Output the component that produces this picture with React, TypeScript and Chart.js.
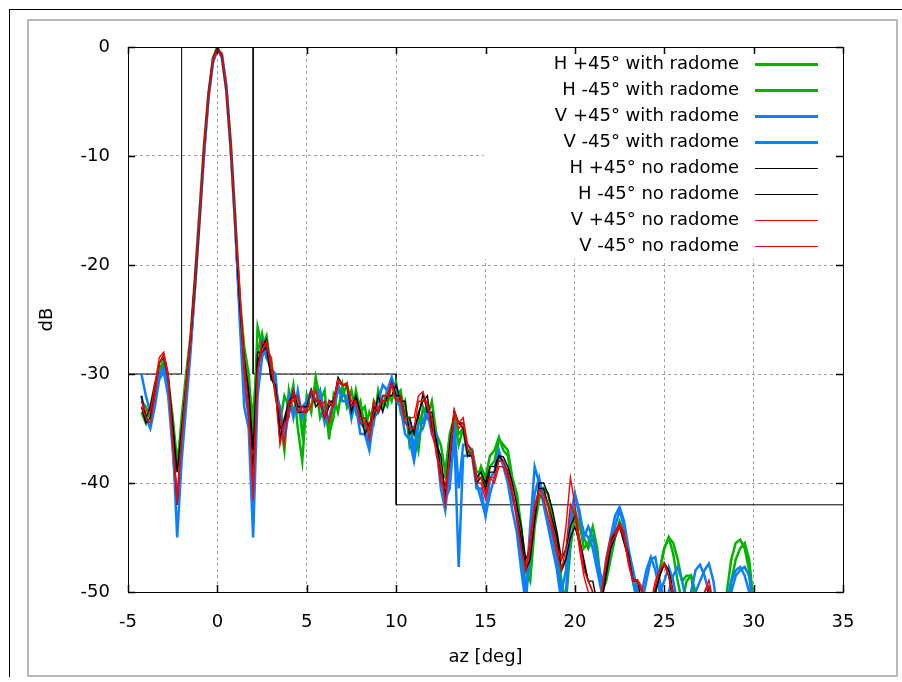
import { useEffect, useRef } from 'react';
import { Chart, registerables } from 'chart.js';

Chart.register(...registerables);

// azimuth samples [deg]
const az = [
  -4.25, -4, -3.75, -3.5, -3.25, -3, -2.75, -2.5, -2.25, -2,
  -1.75, -1.5, -1.25, -1, -0.75, -0.5, -0.25, 0, 0.25, 0.5,
  0.75, 1, 1.25, 1.5, 1.75, 2, 2.25, 2.5, 2.75, 3,
  3.25, 3.5, 3.75, 4, 4.25, 4.5, 4.75, 5, 5.25, 5.5,
  5.75, 6, 6.25, 6.5, 6.75, 7, 7.25, 7.5, 7.75, 8,
  8.25, 8.5, 8.75, 9, 9.25, 9.5, 9.75, 10, 10.25, 10.5,
  10.75, 11, 11.25, 11.5, 11.75, 12, 12.25, 12.5, 12.75, 13,
  13.25, 13.5, 13.75, 14, 14.25, 14.5, 14.75, 15, 15.25, 15.5,
  15.75, 16, 16.25, 16.5, 16.75, 17, 17.25, 17.5, 17.75, 18,
  18.25, 18.5, 18.75, 19, 19.25, 19.5, 19.75, 20, 20.25, 20.5,
  20.75, 21, 21.25, 21.5, 21.75, 22, 22.25, 22.5, 22.75, 23,
  23.25, 23.5, 23.75, 24, 24.25, 24.5, 24.75, 25, 25.25, 25.5,
  25.75, 26, 26.25, 26.5, 26.75, 27, 27.25, 27.5, 27.75, 28,
  28.25, 28.5, 28.75, 29, 29.25, 29.5, 29.75, 30,
];

const hPlus45Radome = [
  -33.5, -34.5, -33, -31, -29.5, -28.8, -31, -35.5, -39, -34,
  -30, -26.5, -21, -15, -9, -4.2, -1.3, -0.3, -0.6, -3.5,
  -8.8, -15.5, -23, -27.5, -30, -36, -25.7, -27.5, -26.5, -29.5,
  -30.5, -34.5, -32, -33, -31, -35, -38, -32, -33.5, -30.3,
  -32.5, -31.5, -36, -32, -33.5, -31, -33, -31.5, -33.5, -32.5,
  -35, -33.5, -34.5, -31.5, -33, -31.5, -32.5, -30.8, -33.5, -32.5,
  -36.5, -35, -37, -33, -34, -32.5, -35.5, -36.5, -39, -35.5,
  -34, -36.5, -35, -37.5, -37, -40, -38.5, -39.5, -37.5, -37,
  -35.8, -37, -37.5, -40, -41, -45, -50, -47, -43, -41,
  -41, -42, -44, -46, -48, -47, -44, -42.5, -44, -45,
  -46, -45, -47, -49, -48, -46, -44.5, -44, -45, -47,
  -49, -51, -53, -52, -51, -50, -48, -46, -45, -46.5,
  -49, -51, -49, -48.5, -50, -52, -51, -50, -52, -54,
  -53, -50, -47, -45.5, -45.2, -46, -48, -52,
];

const hMinus45Radome = [
  -32.5, -33, -34, -32, -30, -29, -30.5, -34, -38, -35,
  -31, -27.5, -22, -16, -9.5, -4.5, -1, 0, -0.8, -4,
  -9.5, -16.5, -24, -29, -31, -34, -28, -26.3, -28.5, -28.5,
  -32, -34, -37, -31.5, -33.5, -32, -35.5, -32.5, -33, -31,
  -34, -33, -35.5, -34, -31, -32, -31, -34, -31.5, -33.5,
  -33, -35.5, -32.5, -33.5, -32.5, -33, -30.8, -32, -31.5, -34,
  -34, -37, -34.5, -33.5, -33, -34.5, -35.5, -39, -39.5, -37.5,
  -34, -35.5, -35, -37, -37, -39, -39, -40.5, -38.5, -38,
  -36, -36.5, -37, -39.5, -41, -44, -48, -49, -44, -41.5,
  -40.5, -41, -43, -45.5, -49, -51, -46, -43, -43.5, -46,
  -45.5, -44, -46, -50, -49, -47, -45, -43.5, -44.5, -46.5,
  -48, -50, -52, -54, -52, -50, -48, -46, -45, -45.5,
  -47, -49, -48.5, -48.5, -51, -53, -52, -51, -53, -55,
  -54, -52, -49, -47, -46, -45.5, -47, -51,
];

const vPlus45Radome = [
  -30, -32, -33.5, -32.5, -30, -29.4, -31, -36, -45, -38,
  -33, -28, -22, -16, -10, -4.8, -1.5, -0.2, -0.7, -3.6,
  -9, -16, -25, -33, -35, -45, -32, -28.5, -27, -29.5,
  -30, -35.5, -36, -33.5, -31.5, -33.5, -33, -32.5, -31.5, -32.5,
  -32.5, -34.5, -32.5, -33, -31.5, -32, -32, -34, -32.5, -34.5,
  -35, -36.5, -33.5, -32.5, -31, -31.5, -30.3, -31.5, -32.5, -34.5,
  -34.5, -37, -34.5, -34.5, -33, -35, -35.5, -39.5, -41.5, -40.5,
  -35.5, -47.7, -37.5, -37.5, -37.5, -40.5, -40.5, -43, -41, -39.5,
  -37.6, -38.3, -39, -41.5, -42.5, -47, -50, -44, -38.5, -40,
  -42, -44, -46, -48, -51, -50, -44, -41, -43, -44.5,
  -45, -46, -48, -50, -47, -45, -43, -42.2, -43.5, -46,
  -48, -50, -51, -49, -47, -46.8, -49, -51, -50, -48.5,
  -47.7, -49, -51, -52, -50, -49, -48, -47.4, -49, -52,
  -54, -52, -50, -48.5, -48, -47.7, -48.5, -52,
];

const vMinus45Radome = [
  -32, -34, -35, -33, -30.5, -29.8, -32, -37, -42, -37,
  -32, -27, -21.5, -15.5, -9.8, -4.5, -1.2, -0.1, -1, -4,
  -9.5, -16.5, -24.5, -31, -34, -42, -30, -27, -28.5, -29.5,
  -31.5, -33, -35.5, -32, -34, -31.5, -34, -32.5, -32, -32.5,
  -31.5, -34, -34, -32.5, -31, -32.5, -32.5, -33, -33, -35.5,
  -35.5, -37, -34, -33.5, -32, -32, -30.5, -32.5, -33, -35.5,
  -36, -38, -35.5, -35, -33.5, -35.5, -36.5, -40.5, -42.5, -38.5,
  -34.5, -40.5, -36.5, -36.5, -37, -40, -41.5, -43, -39.5, -39,
  -37, -38.5, -40, -42.5, -44.5, -48, -51, -46, -41, -39.5,
  -41.5, -43.5, -45, -47, -50, -48, -43, -41, -42.5, -45,
  -44, -45, -47, -49, -48, -46, -44, -42.5, -44, -47,
  -49, -51, -50, -48, -46.8, -48, -50, -49, -47.7, -49,
  -51, -53, -52, -50, -48, -47.5, -48.5, -50, -53, -55,
  -53, -51, -49, -48, -47.7, -48.5, -50, -54,
];

const hPlus45NoRadome = [
  -33, -34.5, -34, -31.5, -29, -28.2, -30, -35, -42, -35.5,
  -31, -26.5, -21, -15.5, -9.2, -4.3, -1.1, 0, -0.9, -3.9,
  -9.2, -16.3, -23.5, -29.5, -32, -39, -29, -27.5, -26.8, -30,
  -31.5, -36, -34, -32.5, -32, -33.5, -33.5, -33.5, -31.5, -33,
  -32.5, -34, -33, -32.5, -30.3, -31, -31, -33, -32, -33.5,
  -35.5, -34.5, -34, -32, -33.5, -32, -32, -31, -32.5, -32.5,
  -35.5, -35, -34, -31.8, -33.5, -33.5, -36.5, -37.5, -41, -36.5,
  -33.3, -34.5, -34.5, -37, -37.5, -39.5, -39, -40, -38.5, -38.5,
  -37.5, -37.6, -38.5, -40, -42, -44, -47, -46, -43, -40,
  -40, -41, -42.5, -44.5, -47, -46, -44, -43, -45, -47,
  -49, -49, -51, -50, -48, -45.5, -44.5, -43.7, -45, -46.5,
  -48.9, -48.9, -50, -52, -51, -50, -48.5, -47.3, -48, -50,
  -52, -54, -53, -51, -52, -53, -51, -49.5, -51, -54,
  -55, -56, -55, -54, -55, -56, -57, -58,
];

const hMinus45NoRadome = [
  -32, -34, -33, -31, -29, -28.5, -30.5, -34.5, -39, -35,
  -31, -27, -22, -16, -9.5, -4.6, -1.2, -0.1, -0.8, -3.8,
  -9, -16, -23, -28.5, -31.5, -37, -28, -28, -27.5, -30.5,
  -31, -35, -34.5, -33, -31.5, -33, -33, -33, -31.5, -32.5,
  -32.5, -34, -32.5, -32.5, -30.8, -31, -31, -33.5, -32, -34,
  -34, -35, -33, -33.5, -32.5, -32.5, -30.8, -32, -32, -34,
  -34, -35.5, -33.5, -32.5, -32, -35, -36, -39, -40.5, -38,
  -33.5, -34.5, -35, -37.5, -37.5, -40, -39.5, -40.5, -39, -39,
  -37.5, -38, -39, -41, -43, -45, -48, -47, -43.5, -40.5,
  -40.5, -42, -43.5, -45, -48, -47, -45, -44, -45.5, -47.5,
  -49, -50, -52, -51, -48.5, -46, -45, -44, -45.5, -47,
  -49, -49, -51, -53, -52, -50, -48.5, -47.5, -48.5, -51,
  -53, -55, -54, -52, -52, -53, -52, -50.5, -52, -55,
  -56, -57, -56, -55, -56, -57, -58, -58,
];

const vPlus45NoRadome = [
  -32.5, -33.5, -33.5, -31, -28.5, -28, -30, -36, -42, -36,
  -31.5, -27, -21.5, -15.8, -9.5, -4.5, -1.3, -0.2, -0.6, -3.7,
  -8.8, -16, -22, -29, -33, -41.6, -30, -27, -27.5, -28.5,
  -32, -33.5, -36.5, -32.5, -32.5, -32, -33.5, -33.5, -33, -31.5,
  -33, -32.5, -34.5, -32.5, -30.5, -31, -30.8, -32.5, -32.5, -34,
  -34, -36, -33.5, -33, -32.5, -32.5, -31, -32.5, -32, -34,
  -34, -34, -32, -31.6, -33, -34, -37.5, -38.5, -42, -37.5,
  -33.5, -34.5, -34, -36.5, -37, -39.5, -39.5, -41, -39.5, -39.5,
  -38, -38, -39, -40.5, -43, -46, -48, -45, -42, -40.6,
  -41, -42, -44, -46, -47, -44, -39.5, -42, -45, -48,
  -49, -50, -51, -50, -47, -45, -44.5, -43.7, -44.5, -47,
  -48.9, -48.9, -49.5, -52, -51, -49, -48, -47.3, -48.5, -50,
  -53, -55, -54, -52, -51, -52, -50, -48.9, -51, -54,
  -56, -57, -56, -55, -56, -57, -58, -58,
];

const vMinus45NoRadome = [
  -33, -34, -34.5, -32, -29, -28.3, -30.5, -36.5, -41, -36,
  -31, -26.5, -21.5, -15.5, -9.3, -4.4, -1.1, -0.1, -0.8, -3.9,
  -9.2, -16.2, -22.5, -30, -34, -40, -29.5, -28, -27, -29.5,
  -31.5, -36.5, -34.5, -34, -31.5, -33.5, -33, -33.5, -31.5, -32.5,
  -32.5, -34, -32.5, -33, -30.8, -31, -31, -33, -32.5, -34.5,
  -34.5, -35, -32.5, -33.5, -32, -32, -30.8, -32.5, -32.5, -34.5,
  -35, -35, -32.5, -32.5, -32.5, -35.5, -37, -40, -40.5, -37.5,
  -33.3, -35, -34.5, -37, -37.5, -40, -40, -41.5, -39.5, -40,
  -38.5, -38.5, -39.5, -41, -43.5, -46, -48, -46, -42.5, -41,
  -41.5, -43, -44.5, -46.5, -48, -46, -42, -43, -46, -48.5,
  -50, -51, -52, -50, -47.5, -45.5, -45, -44, -45, -47.5,
  -49, -49, -50, -52, -51, -49.5, -48, -47.5, -48.5, -50.5,
  -53, -55, -54, -52, -51, -52, -50, -49.5, -52, -55,
  -56, -57, -56, -55, -56, -57, -58, -58,
];

// sidelobe mask
const maskAz = [-5, -2, -2, 0, 2, 2, 10, 10, 35];
const maskDb = [-30, -30, 0, null, 0, -30, -30, -42, -42];

const xTickValues = [-5, 0, 5, 10, 15, 20, 25, 30, 35];
const yTickValues = [-50, -40, -30, -20, -10, 0];

const seriesLabels = [
  'H +45° with radome',
  'H -45° with radome',
  'V +45° with radome',
  'V -45° with radome',
  'H +45° no radome',
  'H -45° no radome',
  'V +45° no radome',
  'V -45° no radome',
];
const seriesValues = [
  hPlus45Radome, hMinus45Radome, vPlus45Radome, vMinus45Radome,
  hPlus45NoRadome, hMinus45NoRadome, vPlus45NoRadome, vMinus45NoRadome,
];

const GREEN = '#00b400';
const BLUE = '#0a80ff';
const BLACK = '#000000';
const RED = '#ff0000';
const seriesColors = [GREEN, GREEN, BLUE, BLUE, BLACK, BLACK, RED, RED];
const seriesWidths = [2.5, 2.5, 2.5, 2.5, 1.4, 1.4, 1.4, 1.4];
const legendWidths = [3, 3, 3, 3, 1, 1, 1, 1];

const FONT = '"DejaVu Sans", "Liberation Sans", sans-serif';

const decorPlugin = {
  id: 'gnuplotDecor',
  beforeDatasetsDraw(chart: any) {
    const { ctx, chartArea: a } = chart;
    ctx.save();
    ctx.fillStyle = '#ffffff';
    ctx.fillRect(484, a.top, a.right - 484, 259 - a.top);
    ctx.restore();
  },
  afterDatasetsDraw(chart: any) {
    const { ctx, chartArea: a, scales } = chart;
    ctx.save();
    // legend
    ctx.font = `18px ${FONT}`;
    ctx.textAlign = 'right';
    ctx.textBaseline = 'middle';
    seriesLabels.forEach((label, i) => {
      const y = 64 + 26 * i;
      ctx.fillStyle = '#000';
      ctx.fillText(label, 739, y);
      ctx.strokeStyle = seriesColors[i];
      ctx.lineWidth = legendWidths[i];
      ctx.beginPath();
      const yy = legendWidths[i] % 2 === 1 ? Math.round(y) + 0.5 : Math.round(y);
      ctx.moveTo(755, yy);
      ctx.lineTo(818, yy);
      ctx.stroke();
    });
    // border
    ctx.strokeStyle = '#000';
    ctx.lineWidth = 1;
    ctx.strokeRect(a.left + 0.5, a.top + 0.5, a.right - a.left, a.bottom - a.top);
    // inward ticks (mirrored)
    ctx.beginPath();
    xTickValues.forEach((v) => {
      const px = Math.round(scales.x.getPixelForValue(v)) + 0.5;
      ctx.moveTo(px, a.bottom);
      ctx.lineTo(px, a.bottom - 7);
      ctx.moveTo(px, a.top);
      ctx.lineTo(px, a.top + 7);
    });
    yTickValues.forEach((v) => {
      const py = Math.round(scales.y.getPixelForValue(v)) + 0.5;
      ctx.moveTo(a.left, py);
      ctx.lineTo(a.left + 7, py);
      ctx.moveTo(a.right, py);
      ctx.lineTo(a.right - 7, py);
    });
    ctx.lineWidth = 1.5;
    ctx.stroke();
    // axis titles
    ctx.fillStyle = '#000';
    ctx.font = `18px ${FONT}`;
    ctx.textAlign = 'center';
    ctx.textBaseline = 'middle';
    ctx.fillText('az [deg]', (a.left + a.right) / 2, 657);
    ctx.translate(47, (a.top + a.bottom) / 2);
    ctx.rotate(-Math.PI / 2);
    ctx.fillText('dB', 0, 0);
    ctx.restore();
  },
};

export default function App() {
  const canvasRef = useRef<HTMLCanvasElement | null>(null);

  useEffect(() => {
    const canvas = canvasRef.current;
    if (!canvas) return;
    const datasets: any[] = [
      {
        label: 'mask',
        data: maskAz.map((x, i) => ({ x, y: maskDb[i] })),
        borderColor: '#000',
        borderWidth: 1,
        pointRadius: 0,
        spanGaps: false,
        order: 20,
      },
      ...seriesLabels.map((label, k) => ({
        label,
        data: az.map((x, i) => ({ x, y: seriesValues[k][i] })),
        borderColor: seriesColors[k],
        backgroundColor: seriesColors[k],
        borderWidth: seriesWidths[k],
        pointRadius: 0,
        tension: 0,
        order: 10 - k,
      })),
    ];
    const chart = new Chart(canvas, {
      type: 'line',
      data: { datasets },
      options: {
        animation: false,
        responsive: false,
        maintainAspectRatio: false,
        devicePixelRatio: 1,
        layout: { padding: { left: 0, top: 47, right: 59, bottom: 0 } },
        plugins: { legend: { display: false }, tooltip: { enabled: false }, title: { display: false } },
        scales: {
          x: {
            type: 'linear',
            min: -5,
            max: 35,
            afterFit: (s: any) => { s.height = 90; },
            afterBuildTicks: (s: any) => { s.ticks = xTickValues.map((v) => ({ value: v })); },
            ticks: { font: { family: FONT, size: 18 }, color: '#000', padding: 20, maxRotation: 0 },
            grid: { color: '#a0a0a0', lineWidth: 1, drawTicks: false },
            border: { display: false, dash: [3, 3] },
          },
          y: {
            type: 'linear',
            min: -50,
            max: 0,
            afterFit: (s: any) => { s.width = 128; },
            afterBuildTicks: (s: any) => { s.ticks = yTickValues.map((v) => ({ value: v })); },
            ticks: { font: { family: FONT, size: 18 }, color: '#000', padding: 18 },
            grid: { color: '#a0a0a0', lineWidth: 1, drawTicks: false },
            border: { display: false, dash: [3, 3] },
          },
        },
      },
      plugins: [decorPlugin],
    });
    return () => chart.destroy();
  }, []);

  return (
    <div style={{ position: 'fixed', left: 0, top: 0, width: 902, height: 682, background: '#fff', overflow: 'hidden' }}>
      <div style={{ position: 'absolute', left: 9, top: 9, width: 893, height: 668, borderTop: '1px solid #000', borderLeft: '1px solid #000', boxSizing: 'border-box' }} />
      <div style={{ position: 'absolute', left: 27, top: 19, width: 871, height: 658, border: '2px solid #b8b8b8', boxSizing: 'border-box' }} />
      <canvas ref={canvasRef} width={902} height={682} style={{ position: 'absolute', left: 0, top: 0, width: 902, height: 682 }} />
    </div>
  );
}
